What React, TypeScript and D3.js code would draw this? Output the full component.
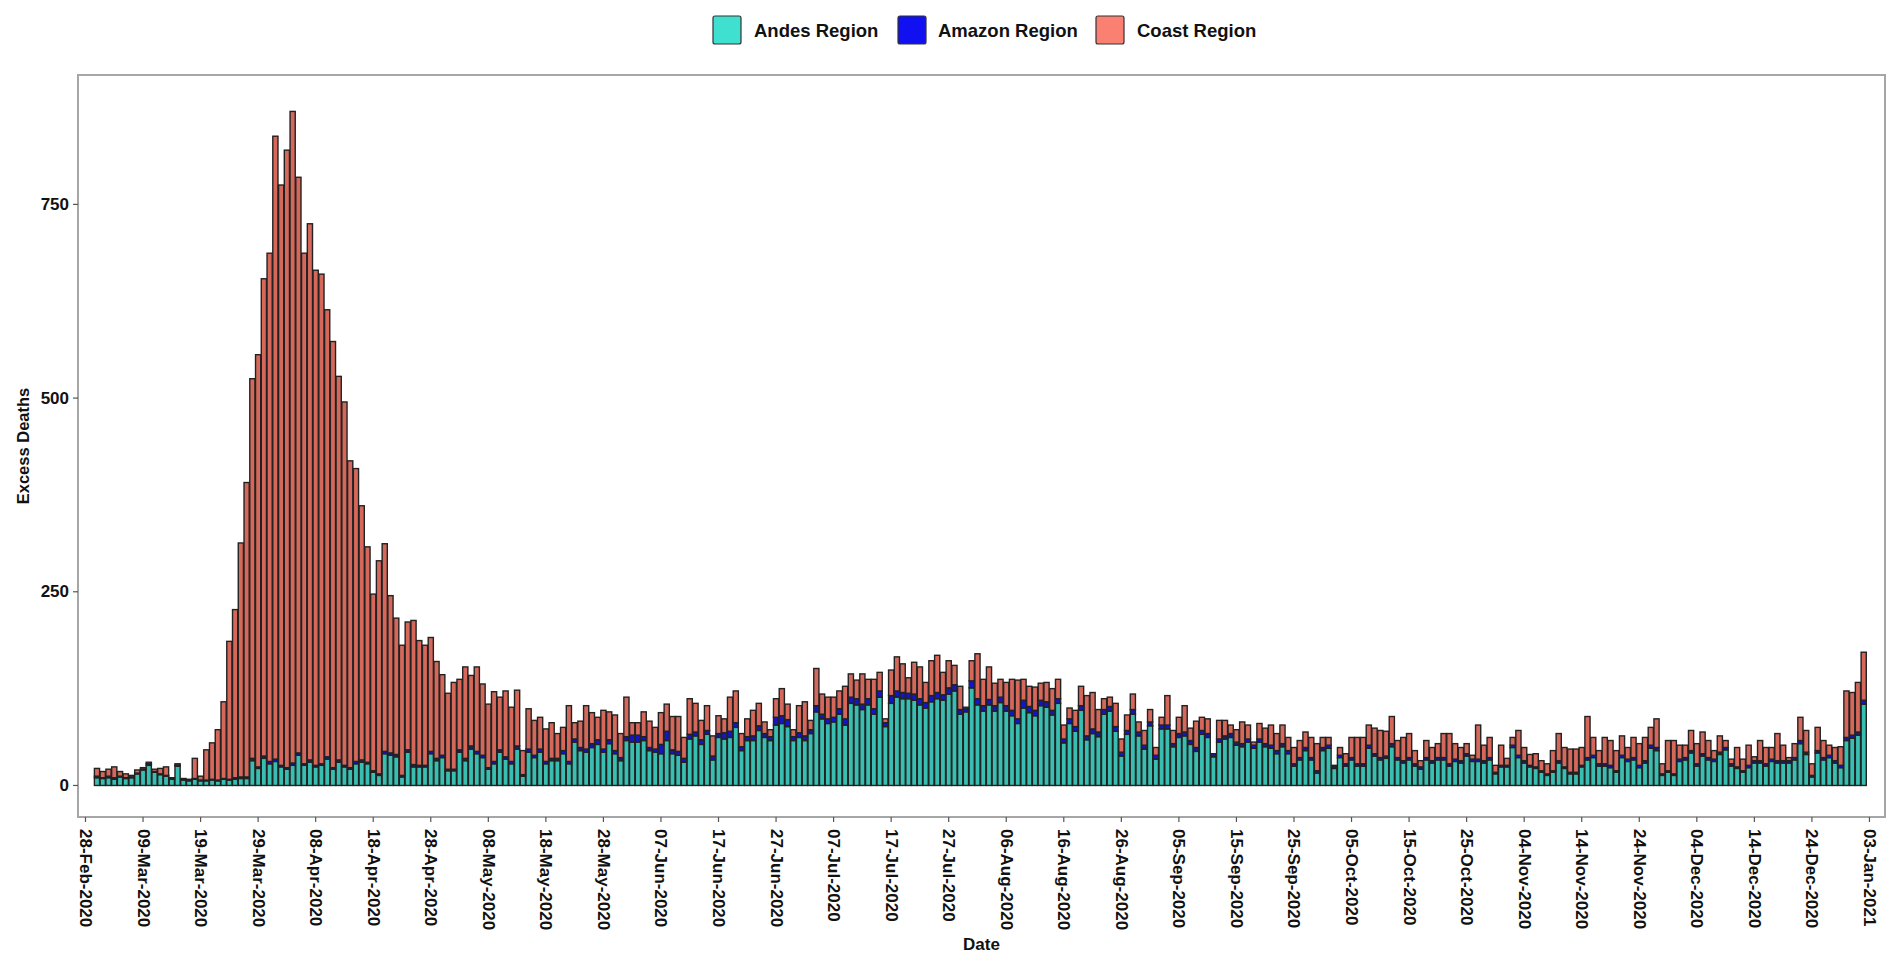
import React from 'react';
import * as d3 from 'd3';

// Daily excess deaths, starting 01-Mar-2020 (one value per day)
const andes = [
  10,9,10,8,11,9,10,15,20,26,
  17,14,12,8,25,7,6,8,6,6,
  7,6,8,7,8,9,9,32,22,35,
  28,31,24,21,26,39,26,30,24,26,
  34,21,30,24,21,28,30,28,17,13,
  41,39,37,11,43,24,24,24,41,32,
  36,19,19,43,32,47,41,36,21,28,
  43,34,28,47,12,43,36,43,28,32,
  32,41,28,56,45,43,49,53,43,54,
  41,32,58,56,56,58,45,43,41,58,
  41,39,30,60,64,53,66,33,62,60,
  62,75,45,58,58,71,62,58,78,80,
  76,58,62,58,67,95,86,80,82,92,
  78,106,104,98,104,92,114,76,106,114,
  112,112,110,104,100,108,112,110,118,122,
  92,95,126,104,96,104,96,107,96,90,
  80,100,94,90,103,101,91,106,55,80,
  70,97,59,67,63,92,96,70,38,66,
  92,64,47,77,34,73,73,50,62,64,
  53,44,66,62,37,56,60,62,52,50,
  56,48,56,50,48,41,50,41,25,33,
  45,33,16,45,48,22,36,25,33,25,
  25,48,38,33,35,50,33,29,33,25,
  21,33,29,33,33,25,31,29,38,31,
  31,29,33,15,24,24,49,36,29,24,
  22,17,13,17,29,22,15,15,24,33,
  36,25,25,23,17,36,31,33,23,29,
  48,45,13,17,13,31,33,42,25,38,
  33,31,40,46,25,22,17,23,29,29,
  25,31,29,29,29,33,54,40,11,42,
  33,36,29,23,58,61,65,105,
];

const amazon = [
  2,1,2,2,1,1,1,1,1,2,
  1,1,1,1,1,1,1,1,1,1,
  1,1,1,1,2,2,2,3,2,3,
  3,3,2,2,3,3,2,3,2,2,
  3,2,3,2,2,3,3,2,2,2,
  3,3,3,2,3,3,2,2,3,3,
  3,2,2,3,3,4,3,3,2,3,
  3,3,3,4,2,4,3,4,3,3,
  3,4,3,4,4,4,5,6,4,5,
  4,4,5,9,9,5,4,4,12,12,
  5,5,5,6,5,6,5,5,5,8,
  8,6,5,5,6,6,5,5,10,10,
  9,5,6,6,5,8,6,6,6,7,
  8,8,8,7,8,7,8,5,10,8,
  8,7,8,8,7,8,8,7,8,8,
  6,4,9,8,7,7,7,7,7,7,
  6,10,8,7,7,7,6,6,5,6,
  6,6,5,6,6,6,6,6,5,5,
  6,5,5,5,5,5,5,4,5,5,
  5,5,5,5,4,4,4,5,4,4,
  4,4,4,4,4,4,4,4,3,3,
  4,3,3,4,4,3,3,3,3,3,
  3,4,3,3,3,4,3,3,3,3,
  3,3,3,3,3,3,3,3,3,3,
  3,3,3,2,2,2,3,3,3,2,
  2,2,2,2,3,2,2,2,2,3,
  3,3,3,3,2,3,3,3,3,3,
  4,4,2,2,2,3,3,3,3,3,
  3,3,3,3,3,2,2,3,3,3,
  3,3,3,3,3,3,4,3,2,3,
  3,3,3,3,4,4,4,5,
];

const coast = [
  10,8,9,14,6,5,2,4,2,2,
  3,7,11,1,2,1,1,26,5,39,
  47,65,99,178,217,302,380,490,532,616,
  656,804,749,797,841,743,659,692,639,632,
  577,550,495,469,396,378,328,278,228,275,
  268,203,176,168,165,186,161,155,147,125,
  104,98,112,91,118,91,109,92,82,90,
  68,85,70,72,31,52,45,41,42,46,
  32,30,72,21,34,56,40,29,50,36,
  46,31,51,16,16,32,34,28,41,35,
  43,45,27,46,37,25,32,26,23,18,
  44,41,17,23,33,29,15,9,24,35,
  20,9,35,44,12,48,26,28,26,23,
  42,30,24,39,25,38,24,5,33,44,
  37,20,41,41,26,45,48,29,35,25,
  30,2,26,58,34,42,29,23,30,40,
  50,27,26,30,22,25,28,25,18,14,
  21,25,52,47,29,14,12,30,17,20,
  20,13,19,16,10,10,38,17,21,34,
  16,34,17,19,0,24,20,11,16,28,
  18,4,20,20,26,22,24,17,21,22,
  20,26,35,13,10,1,10,13,26,34,
  34,26,33,35,32,35,22,30,31,17,
  8,22,17,18,31,39,20,17,13,5,
  44,20,26,9,26,9,10,32,17,14,
  17,13,13,26,35,25,30,30,23,53,
  23,17,34,32,26,25,15,26,28,30,
  23,37,13,39,43,18,16,26,26,28,
  22,11,21,9,6,25,15,26,5,26,
  21,15,35,20,4,18,30,28,15,30,
  22,13,17,24,60,55,64,62,
];

const firstDay = '2020-03-01';

const xTickLabels = [
  '28-Feb-2020','09-Mar-2020','19-Mar-2020','29-Mar-2020','08-Apr-2020','18-Apr-2020',
  '28-Apr-2020','08-May-2020','18-May-2020','28-May-2020','07-Jun-2020','17-Jun-2020',
  '27-Jun-2020','07-Jul-2020','17-Jul-2020','27-Jul-2020','06-Aug-2020','16-Aug-2020',
  '26-Aug-2020','05-Sep-2020','15-Sep-2020','25-Sep-2020','05-Oct-2020','15-Oct-2020',
  '25-Oct-2020','04-Nov-2020','14-Nov-2020','24-Nov-2020','04-Dec-2020','14-Dec-2020',
  '24-Dec-2020','03-Jan-2021',
];

const yTicks = [0, 250, 500, 750];

const seriesKeys = ['andes', 'amazon', 'coast'];
const seriesNames = ['Andes Region', 'Amazon Region', 'Coast Region'];
// legend key colours
const seriesColors = ['#40E0D0', '#1010F0', '#FA8072'];
// bars look darker in the reference because of their heavy dark outlines
const barColors = ['#38bfb2', '#1414c8', '#d5685a'];

const W = 1902;
const H = 962;
const panel = { left: 78, right: 1885, top: 75, bottom: 817 };
const DAY = 86400000;
const FONT = '"Liberation Sans", Arial, Helvetica, sans-serif';

export default function App() {
  const parseTick = d3.utcParse('%d-%b-%Y');
  const start = d3.utcParse('%Y-%m-%d')(firstDay) as Date;
  const ref = parseTick(xTickLabels[0]) as Date;

  const x = d3
    .scaleUtc()
    .domain([new Date(ref.getTime() - 1.3 * DAY), new Date(ref.getTime() + 312.7 * DAY)])
    .range([panel.left, panel.right]);

  const y = d3.scaleLinear().domain([-40.7, 917]).range([panel.bottom, panel.top]);

  const rows = andes.map((a, i) => ({
    date: d3.utcDay.offset(start, i),
    andes: a,
    amazon: amazon[i],
    coast: coast[i],
  }));

  const stacked = d3.stack<any>().keys(seriesKeys)(rows);
  const bw = 0.9 * (x(new Date(start.getTime() + DAY)) - x(start));

  const legendItems = [
    { keyX: 713, textX: 754 },
    { keyX: 898, textX: 938 },
    { keyX: 1096, textX: 1137 },
  ];

  return (
    <svg
      width={W}
      height={H}
      style={{ position: 'absolute', left: 0, top: 0, display: 'block', background: '#fff' }}
      fontFamily={FONT}
    >
      <rect x={0} y={0} width={W} height={H} fill="#fff" />

      {/* legend */}
      {seriesNames.map((name, k) => (
        <g key={name}>
          <rect
            x={legendItems[k].keyX}
            y={16}
            width={28}
            height={28}
            rx={2}
            fill={seriesColors[k]}
            stroke="#333"
            strokeWidth={1.2}
          />
          <text
            x={legendItems[k].textX}
            y={30}
            dominantBaseline="central"
            fontSize={18.5}
            fontWeight="bold"
            fill="#111"
          >
            {name}
          </text>
        </g>
      ))}

      {/* bars */}
      {stacked.map((layer, k) => (
        <g key={seriesKeys[k]} fill={barColors[k]} stroke="#222" strokeWidth={1.4}>
          {layer.map((d, i) => {
            const y0 = y(d[0]);
            const y1 = y(d[1]);
            if (d[1] - d[0] <= 0) return null;
            return (
              <rect
                key={i}
                x={x(rows[i].date) - bw / 2}
                y={y1}
                width={bw}
                height={y0 - y1}
              />
            );
          })}
        </g>
      ))}

      {/* panel border */}
      <rect
        x={panel.left}
        y={panel.top}
        width={panel.right - panel.left}
        height={panel.bottom - panel.top}
        fill="none"
        stroke="#a6a6a6"
        strokeWidth={2}
      />

      {/* y axis */}
      {yTicks.map((t) => (
        <g key={t}>
          <line x1={panel.left - 5} x2={panel.left} y1={y(t)} y2={y(t)} stroke="#555" strokeWidth={1.2} />
          <text
            x={panel.left - 9}
            y={y(t)}
            textAnchor="end"
            dominantBaseline="central"
            fontSize={17}
            fontWeight="bold"
            fill="#111"
          >
            {t}
          </text>
        </g>
      ))}
      <text
        transform={`translate(23, ${(panel.top + panel.bottom) / 2}) rotate(-90)`}
        textAnchor="middle"
        dominantBaseline="central"
        fontSize={16.5}
        fontWeight="bold"
        fill="#111"
      >
        Excess Deaths
      </text>

      {/* x axis */}
      {xTickLabels.map((lab) => {
        const px = x(parseTick(lab) as Date);
        return (
          <g key={lab}>
            <line x1={px} x2={px} y1={panel.bottom} y2={panel.bottom + 5} stroke="#555" strokeWidth={1.2} />
            <text
              transform={`translate(${px}, ${panel.bottom + 12}) rotate(90)`}
              textAnchor="start"
              dominantBaseline="central"
              fontSize={17}
              fontWeight="bold"
              fill="#111"
            >
              {lab}
            </text>
          </g>
        );
      })}
      <text
        x={(panel.left + panel.right) / 2}
        y={944}
        textAnchor="middle"
        dominantBaseline="central"
        fontSize={17}
        fontWeight="bold"
        fill="#111"
      >
        Date
      </text>
    </svg>
  );
}
